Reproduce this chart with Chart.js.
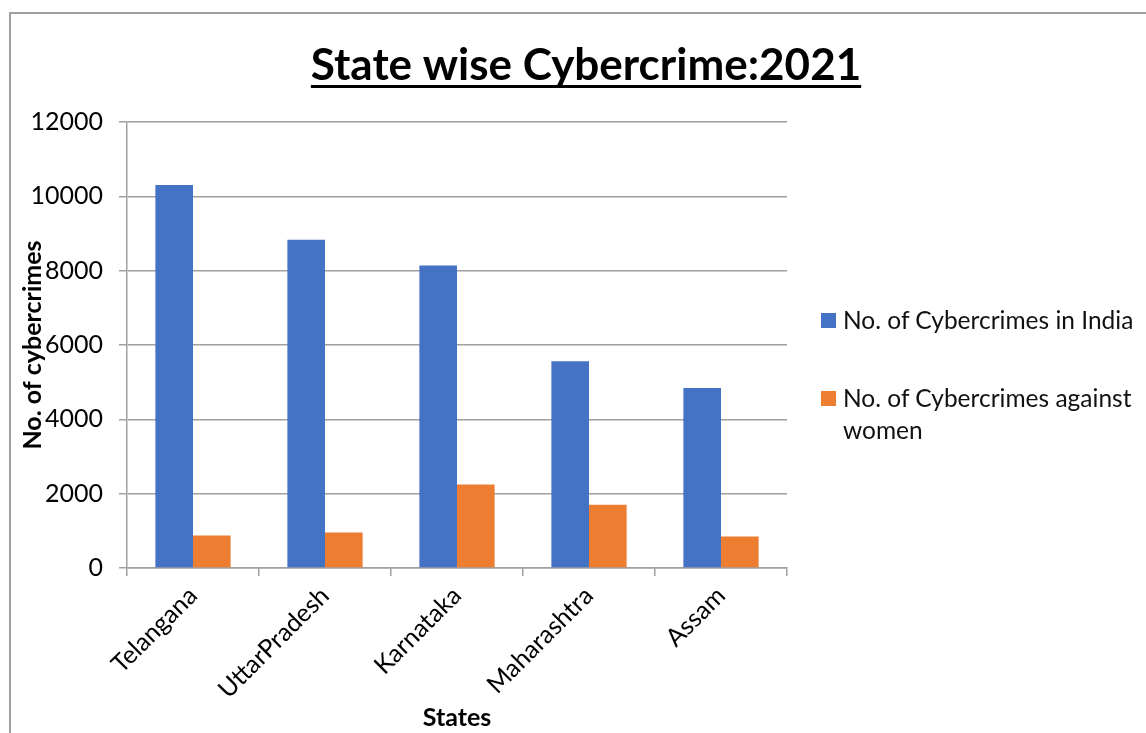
<!DOCTYPE html>
<html lang="en">
  <head>
    <meta charset="UTF-8" />
    <title>State wise Cybercrime 2021</title>
    <style>
      body {
        margin: 0;
        background: white;
        font-family: Lato, "Open Sans", sans-serif;
      }
      .frame {
        position: absolute;
        left: 9px;
        top: 12px;
        width: 1200px;
        height: 800px;
        border: 2px solid #a0a0a0;
      }
      .wrap {
        position: absolute;
        left: 0;
        top: 0;
        width: 1146px;
        height: 733px;
      }
      .legend {
        position: absolute;
        left: 821px;
        top: 304px;
        font-size: 24.5px;
        color: #111;
      }
      .legend .item {
        display: flex;
        align-items: flex-start;
        margin-bottom: 46px;
        line-height: 32px;
      }
      .legend .box {
        width: 15px;
        height: 15px;
        margin: 9px 7px 0 0;
        flex: none;
      }
    </style>
    <script src="https://cdn.jsdelivr.net/npm/chart.js"></script>
  </head>
  <body>
    <div class="frame"></div>
    <div class="wrap">
      <canvas id="crimeChart" width="1146" height="733"></canvas>
    </div>
    <div class="legend" id="legend"></div>

    <script>
      const states = ["Telangana", "UttarPradesh", "Karnataka", "Maharashtra", "Assam"];
      const totalCrimes = [10303, 8829, 8136, 5562, 4846];
      const womenCrimes = [875, 955, 2245, 1705, 850];
      const seriesNames = ["No. of Cybercrimes in India", "No. of Cybercrimes against women"];
      const seriesColors = ["#4472C4", "#ED7D31"];
      const chartTitle = "State wise Cybercrime:2021";

      // title with underline, drawn on the canvas
      const underlineTitle = {
        id: "underlineTitle",
        afterDraw(chart) {
          const ctx = chart.ctx;
          ctx.save();
          ctx.font = "bold 44px Lato, 'Open Sans', sans-serif";
          ctx.fillStyle = "#000";
          ctx.textAlign = "center";
          ctx.textBaseline = "alphabetic";
          const x = 586, y = 80;
          ctx.fillText(chartTitle, x, y);
          const w = ctx.measureText(chartTitle).width;
          ctx.fillRect(x - w / 2, y + 5, w, 3);
          ctx.restore();
        },
      };

      const grey = "#a0a0a0";

      new Chart(document.getElementById("crimeChart"), {
        type: "bar",
        data: {
          labels: states,
          datasets: [
            { label: seriesNames[0], data: totalCrimes, backgroundColor: seriesColors[0] },
            { label: seriesNames[1], data: womenCrimes, backgroundColor: seriesColors[1] },
          ],
        },
        options: {
          responsive: false,
          animation: false,
          categoryPercentage: 0.57,
          barPercentage: 1,
          layout: { padding: { left: 12, right: 359, top: 122, bottom: 0 } },
          plugins: {
            legend: { display: false },
            title: { display: false },
            tooltip: { enabled: false },
          },
          scales: {
            x: {
              afterFit(scale) {
                scale.height = 733 - 568;
              },
              grid: {
                drawOnChartArea: false,
                drawTicks: true,
                tickLength: 8,
                color: grey,
                lineWidth: 1.5,
                offset: true,
              },
              border: { color: grey, width: 1.5 },
              ticks: {
                color: "#000",
                font: { family: "Lato", size: 25 },
                minRotation: 45,
                maxRotation: 45,
                padding: 5,
              },
              title: {
                display: true,
                text: "States",
                color: "#000",
                font: { family: "Lato", size: 25, weight: "bold" },
                padding: { top: 0, bottom: 0 },
              },
            },
            y: {
              min: 0,
              max: 12000,
              afterFit(scale) {
                scale.width = 127 - 12;
              },
              ticks: {
                stepSize: 2000,
                color: "#000",
                font: { family: "Lato", size: 25 },
                padding: 16,
                callback: (v) => String(v),
              },
              grid: { color: grey, lineWidth: 1.5, tickLength: 8 },
              border: { color: grey, width: 1.5 },
              title: {
                display: true,
                text: "No. of cybercrimes",
                color: "#000",
                font: { family: "Lato", size: 25, weight: "bold" },
                padding: { top: 6, bottom: 0 },
              },
            },
          },
        },
        plugins: [underlineTitle],
      });

      // legend beside the chart
      const legend = document.getElementById("legend");
      seriesNames.forEach((name, i) => {
        const item = document.createElement("div");
        item.className = "item";
        item.innerHTML =
          '<span class="box" style="background:' + seriesColors[i] + '"></span>' +
          '<span style="width:300px">' + name + "</span>";
        legend.appendChild(item);
      });
    </script>
  </body>
</html>
